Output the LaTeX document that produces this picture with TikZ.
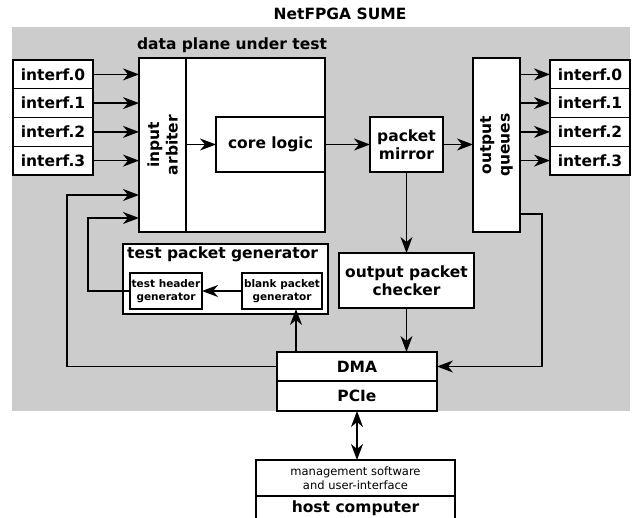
\documentclass[tikz,border=0pt]{standalone}
\usepackage{fontspec}
\setmainfont{DejaVu Sans}
\usepackage{tikz}
\usetikzlibrary{arrows.meta,calc,positioning}

\begin{document}
\begin{tikzpicture}[x=1pt,y=-1pt,align=center]
\tikzstyle{block}=[draw=black,fill=white,line width=1.4pt,inner sep=0pt,outer sep=0pt,font=\bfseries\fontsize{15.5}{18.5}\selectfont]
\tikzstyle{small}=[block,font=\bfseries\fontsize{10.5}{12.5}\selectfont]
\tikzstyle{iface}=[block,minimum width=80pt,minimum height=28.75pt]
\tikzstyle{caption}=[inner sep=0pt,font=\bfseries\fontsize{15.5}{18.5}\selectfont]
\tikzstyle{flow}=[->,>={Stealth[length=16pt,width=12pt,inset=5pt]},line width=1.4pt]
\tikzstyle{both}=[flow,<->]

\useasboundingbox (0,0) rectangle (633,518);

\node[fill=black!20,inner sep=0pt,minimum width=618pt,minimum height=384pt] (sume) at (321,219) {};
\node[caption] (sumelbl) at (340,14) {NetFPGA SUME};

\foreach \i/\y in {0/74.4,1/103.1,2/131.9,3/160.6} {
  \node[iface] (inl\i) at (53,\y) {interf.\i};
  \node[iface] (outr\i) at (590,\y) {interf.\i};
}

\node[block,minimum width=186pt,minimum height=174pt] (dp) at (232,145) {};
\node[caption] (dplbl) at (232,45) {data plane under test};
\node[block,minimum width=47pt,minimum height=174pt] (arb) at (162.5,145) {};
\node[caption,rotate=90] (arblbl) at (arb.center) {input\\arbiter};
\node[block,minimum width=109pt,minimum height=55pt] (core) at (270.5,144.5) {core logic};
\node[block,minimum width=73pt,minimum height=55pt] (mirror) at (406.5,144.5) {packet\\mirror};
\node[block,minimum width=47pt,minimum height=174pt] (oq) at (496.5,145) {};
\node[caption,rotate=90] (oqlbl) at (oq.center) {output\\queues};
\node[block,minimum width=135pt,minimum height=55pt] (checker) at (406.5,280.5) {output packet\\checker};

\node[block,minimum width=205pt,minimum height=70pt] (tpg) at (225.5,279) {};
\node[caption,anchor=north west] (tpglbl) at ($(tpg.north west)+(4,3)$) {test packet generator};
\node[small,minimum width=72pt,minimum height=36pt] (thg) at (166,291) {test header\\generator};
\node[small,minimum width=80pt,minimum height=36pt] (bpg) at (282,291) {blank packet\\generator};

\node[block,minimum width=160pt,minimum height=29pt] (dma) at (357,366.5) {DMA};
\node[block,minimum width=160pt,minimum height=30pt,below=0pt of dma] (pcie) {PCIe};

\node[block,font=\fontsize{11.5}{14}\selectfont,minimum width=199pt,minimum height=36pt] (mgmt) at (355.5,478) {management software\\and user-interface};
\node[block,minimum width=199pt,minimum height=24pt,below=0pt of mgmt] (host) {host computer};

\coordinate (in4) at (139,195);
\coordinate (in5) at (139,218);
\coordinate (oqout) at ($(oq.south east)+(0,-18)$);
\coordinate (dmaup) at ($(dma.north west)+(19,0)$);

\foreach \i in {0,...,3} {
  \draw[flow] (inl\i.east) -- (inl\i.east -| arb.west);
  \draw[flow] (outr\i.west -| oq.east) -- (outr\i.west);
}
\draw[flow] (core.west -| arb.east) -- (core.west);
\draw[flow] (core.east) -- (mirror.west);
\draw[flow] (mirror.east) -- (mirror.east -| oq.west);
\draw[flow] (mirror.south) -- (checker.north);
\draw[flow] (checker.south) -- (checker.south |- dma.north);
\draw[flow] (oqout) -- ++(22,0) |- (dma.east);
\draw[flow] (dma.west) -| ($(in4)+(-72,0)$) -- (in4);
\draw[flow] (thg.west) -| ($(in5)+(-51,0)$) -- (in5);
\draw[flow] (bpg.west) -- (thg.east);
\draw[flow] (dmaup) -- (dmaup |- bpg.south);
\draw[both] (pcie.south) -- (pcie.south |- mgmt.north);
\end{tikzpicture}
\end{document}
